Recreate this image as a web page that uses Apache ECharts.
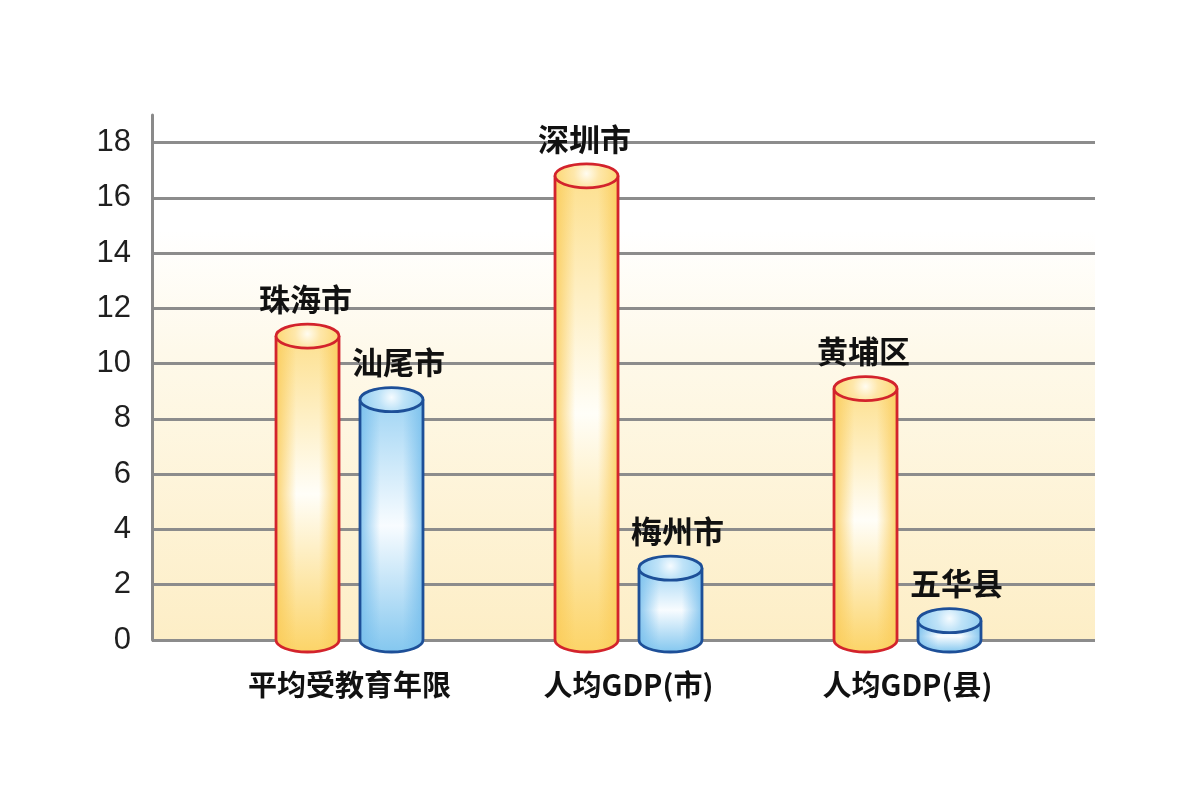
<!DOCTYPE html>
<html>
<head>
<meta charset="utf-8">
<script src="https://cdn.jsdelivr.net/npm/echarts@6/dist/echarts.min.js"></script>
<style>html,body{margin:0;padding:0;background:#fff}#chart{width:1196px;height:800px}</style>
</head>
<body>
<div id="chart"></div>
<script>
// ---- data ----
const categories = ['平均受教育年限', '人均GDP(市)', '人均GDP(县)'];
const highNames = ['珠海市', '深圳市', '黄埔区'];
const highValues = [11.0, 16.8, 9.1];
const lowNames = ['汕尾市', '梅州市', '五华县'];
const lowValues = [8.7, 2.6, 0.7];
const yTicks = [0, 2, 4, 6, 8, 10, 12, 14, 16, 18];

// ---- styles ----
const CJK = '"Noto Sans CJK SC", "Noto Sans", sans-serif';
const palettes = {
  orange: {
    stroke: '#d3232c',
    body: ['#fde08f', '#fffef8', '#fcd468'],
    edge: 'rgba(250,203,88,',
    top: ['#fffcf0', '#fee7aa', '#fcd468']
  },
  blue: {
    stroke: '#1d4f98',
    body: ['#9fd4f4', '#f8fcff', '#84c7ef'],
    edge: 'rgba(118,190,236,',
    top: ['#f5fbff', '#bfe3f8', '#8acaf0']
  }
};

function makeRender(offsetRatio, pal, names, labelDx) {
  return function (params, api) {
    const i = api.value(0), v = api.value(1);
    const band = api.size([1, 0])[0];
    const base = api.coord([i, 0]);
    const topP = api.coord([i, v]);
    const cx = base[0] + offsetRatio * band;
    const yb = base[1], yt = topP[1];
    const hw = 31.5, ry = 12;
    const l = cx - hw, r = cx + hw;
    const bodyPath = `M ${l} ${yt} L ${l} ${yb} A ${hw} ${ry} 0 0 0 ${r} ${yb} L ${r} ${yt} Z`;
    const outline = `M ${l} ${yt} L ${l} ${yb} A ${hw} ${ry} 0 0 0 ${r} ${yb} L ${r} ${yt}`;
    const ellipse = `M ${l} ${yt} A ${hw} ${ry} 0 0 0 ${r} ${yt} A ${hw} ${ry} 0 0 0 ${l} ${yt} Z`;
    const vert = new echarts.graphic.LinearGradient(0, 0, 0, 1, [
      { offset: 0, color: pal.body[0] },
      { offset: 0.5, color: pal.body[1] },
      { offset: 1, color: pal.body[2] }
    ]);
    const horiz = new echarts.graphic.LinearGradient(0, 0, 1, 0, [
      { offset: 0, color: pal.edge + '0.85)' },
      { offset: 0.32, color: pal.edge + '0)' },
      { offset: 0.68, color: pal.edge + '0)' },
      { offset: 1, color: pal.edge + '0.85)' }
    ]);
    const topFill = new echarts.graphic.RadialGradient(0.5, 0.42, 1.35, [
      { offset: 0, color: pal.top[0] },
      { offset: 0.35, color: pal.top[1] },
      { offset: 1, color: pal.top[2] }
    ]);
    return {
      type: 'group',
      children: [
        { type: 'path', shape: { pathData: bodyPath }, style: { fill: vert, stroke: null } },
        { type: 'path', shape: { pathData: bodyPath }, style: { fill: horiz, stroke: null } },
        { type: 'path', shape: { pathData: outline }, style: { fill: null, stroke: pal.stroke, lineWidth: 2.8 } },
        { type: 'path', shape: { pathData: ellipse }, style: { fill: topFill, stroke: pal.stroke, lineWidth: 2.8 } },
        {
          type: 'text',
          style: {
            text: names[i], x: cx + labelDx, y: yt - 37,
            align: 'center', verticalAlign: 'middle',
            fontSize: 31, fontWeight: 'bold', fontFamily: CJK, fill: '#111'
          }
        }
      ]
    };
  };
}

const chart = echarts.init(document.getElementById('chart'), null, { renderer: 'canvas' });
const gridTop = 115, gridBottom = 160;
chart.setOption({
  animation: false,
  backgroundColor: '#ffffff',
  grid: [
    {
      left: 152, right: 101, top: gridTop, bottom: gridBottom, show: true, borderWidth: 0,
      backgroundColor: new echarts.graphic.LinearGradient(0, 0, 0, 1, [
        { offset: 0, color: '#ffffff' },
        { offset: 0.22, color: '#ffffff' },
        { offset: 0.45, color: '#fef9ea' },
        { offset: 1, color: '#fdeec6' }
      ])
    },
    { left: 210, right: 149, top: gridTop, bottom: gridBottom }
  ],
  xAxis: [
    { gridIndex: 0, type: 'value', min: 0, max: 1, show: false },
    {
      gridIndex: 1, type: 'category', data: categories,
      axisLine: { show: false }, axisTick: { show: false },
      axisLabel: { margin: 30, fontSize: 29, fontWeight: 'bold', color: '#111', fontFamily: CJK }
    }
  ],
  yAxis: [
    {
      gridIndex: 0, type: 'value', min: 0, max: 19, interval: 2,
      axisLine: { show: true, lineStyle: { color: '#8a8a8a', width: 3 } },
      axisTick: { show: false },
      axisLabel: {
        fontSize: 31, color: '#1f1f1f', margin: 21, fontFamily: '"Liberation Sans", Arial, sans-serif',
        showMaxLabel: false,
        formatter: function (v) { return yTicks.indexOf(v) >= 0 ? String(v) : ''; }
      },
      splitLine: { show: true, showMaxLine: false, lineStyle: { color: '#8c8c8c', width: 3 } }
    },
    { gridIndex: 1, type: 'value', min: 0, max: 19, show: false, splitLine: { show: false } }
  ],
  series: [
    {
      type: 'custom', xAxisIndex: 1, yAxisIndex: 1,
      renderItem: makeRender(-0.1505, palettes.orange, highNames, -2),
      data: highValues.map((v, i) => [i, v]), z: 3
    },
    {
      type: 'custom', xAxisIndex: 1, yAxisIndex: 1,
      renderItem: makeRender(0.1505, palettes.blue, lowNames, 7),
      data: lowValues.map((v, i) => [i, v]), z: 3
    }
  ]
});
</script>
</body>
</html>
